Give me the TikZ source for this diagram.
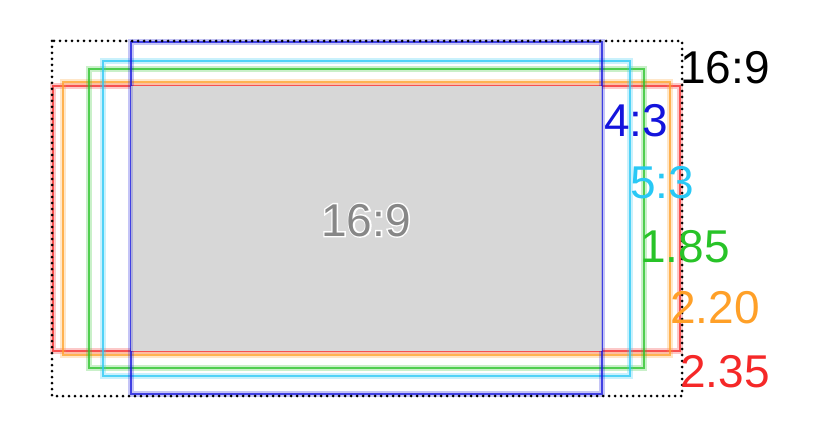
\documentclass[tikz,border=0pt]{standalone}
\usepackage{fontspec}
\setmainfont{Liberation Sans}
\newfontfamily\halofont[FakeBold=6]{Liberation Sans}
\definecolor{cblue}{RGB}{20,20,220}
\definecolor{ccyan}{RGB}{40,200,245}
\definecolor{cgreen}{RGB}{40,195,40}
\definecolor{corange}{RGB}{255,160,40}
\definecolor{cred}{RGB}{245,40,40}
\definecolor{cgray}{RGB}{215,215,215}
\definecolor{tgray}{RGB}{135,135,135}
\begin{document}
\begin{tikzpicture}[x=1pt,y=-1pt,
  frame/.style={line width=5.5pt,draw opacity=0.25,
    postaction={draw,line width=2.4pt,draw opacity=0.75}},
  lab/.style={anchor=base west,inner sep=0pt,font=\fontsize{46}{46}\selectfont}]
\useasboundingbox (0,0) rectangle (825,433);
% frames
\draw[frame,cred]    (53,86)  rectangle (680,351);
\draw[frame,corange] (63,82)  rectangle (670,355);
\draw[frame,cgreen]  (89,69)  rectangle (644,368);
\draw[frame,ccyan]   (103,61) rectangle (630,376);
\draw[frame,cblue]   (131,42) rectangle (602,394);
% gray 16:9 area
\fill[cgray] (131,86) rectangle (602,351);
\begin{scope}
  \clip (131,86) rectangle (602,351);
  \draw[cblue,line width=3pt,draw opacity=0.2] (131,42) rectangle (602,394);
\end{scope}
% dotted outer frame
\draw[black,line width=3pt,line cap=round,dash pattern=on 0pt off 6pt] (52,41) rectangle (682,396);
% labels
\node[lab,text=black]   (l169) at (680,84)  {16:9};
\node[lab,text=cblue]   (l43)  at (604,137) {4:3};
\node[lab,text=ccyan]   (l53)  at (630,198) {5:3};
\node[lab,text=cgreen]  (l185) at (640,262) {1.85};
\node[lab,text=corange] (l220) at (670,323) {2.20};
\node[lab,text=cred]    (l235) at (680,387) {2.35};
\node[lab,text=white,font=\fontsize{46}{46}\halofont] (h169) at (321,236) {16:9};
\node[lab,text=tgray]   (c169) at (321,236) {16:9};
\end{tikzpicture}
\end{document}
